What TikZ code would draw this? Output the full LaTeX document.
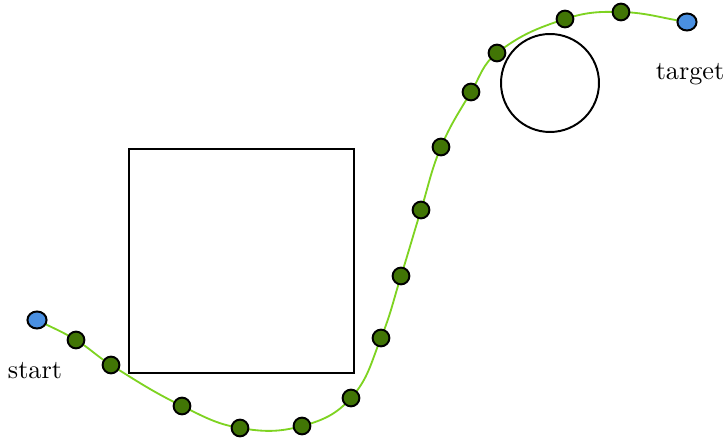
\documentclass[tikz,border=0pt]{standalone}
\usetikzlibrary{shapes.geometric}
\definecolor{pathgreen}{RGB}{126,211,33}
\definecolor{dotgreen}{RGB}{65,117,5}
\definecolor{endblue}{RGB}{74,144,226}
\begin{document}
\begin{tikzpicture}[x=0.3817pt,y=0.3817pt,
  wp/.style={circle,draw=black,line width=0.75pt,fill=dotgreen,inner sep=0pt,minimum size=6.4pt},
  endpt/.style={ellipse,draw=black,line width=0.75pt,fill=endblue,inner sep=0pt,minimum width=7.3pt,minimum height=6.5pt},
  obst/.style={draw=black,line width=0.75pt},
  trail/.style={pathgreen,line width=0.7pt},
  lbl/.style={inner sep=0pt}]
\useasboundingbox (0,0) rectangle (725,439);
% obstacles
\node[obst,rectangle,inner sep=0pt,minimum width=85.9pt,minimum height=85.5pt] (box) at (241.5,178) {};
\node[obst,circle,minimum size=37.4pt,inner sep=0pt] (obs) at (550,356) {};
% trail coordinates
\coordinate (c0) at (37,119);
\coordinate (c1) at (76,99);
\coordinate (c2) at (111,74);
\coordinate (c3) at (182,33);
\coordinate (c4) at (240,11);
\coordinate (c5) at (302,13);
\coordinate (c6) at (351,41);
\coordinate (c7) at (381,101);
\coordinate (c8) at (401,163);
\coordinate (c9) at (421,229);
\coordinate (c10) at (441,292);
\coordinate (c11) at (471,347);
\coordinate (c12) at (497,386);
\coordinate (c13) at (565,420);
\coordinate (c14) at (621,427);
\coordinate (c15) at (687,417);
\draw[trail] (c0) to[out=-27,in=148.7] (c1) to[out=-31.3,in=148.1] (c2)
  to[out=-31.9,in=154] (c3) to[out=-26,in=170.5] (c4) to[out=-9.5,in=195.1] (c5)
  to[out=15.1,in=228.1] (c6) to[out=48.1,in=247.7] (c7) to[out=67.7,in=252.6] (c8)
  to[out=72.6,in=252.8] (c9) to[out=72.8,in=247] (c10) to[out=67,in=239.2] (c11)
  to[out=59.2,in=217.8] (c12) to[out=37.8,in=198.3] (c13) to[out=18.3,in=178.6] (c14)
  to[out=-1.4,in=171.4] (c15);
% nodes
\node[endpt] (s) at (c0) {};
\node[endpt] (t) at (c15) {};
\node[wp] (w1) at (c1) {};
\node[wp] (w2) at (c2) {};
\node[wp] (w3) at (c3) {};
\node[wp] (w4) at (c4) {};
\node[wp] (w5) at (c5) {};
\node[wp] (w6) at (c6) {};
\node[wp] (w7) at (c7) {};
\node[wp] (w8) at (c8) {};
\node[wp] (w9) at (c9) {};
\node[wp] (w10) at (c10) {};
\node[wp] (w11) at (c11) {};
\node[wp] (w12) at (c12) {};
\node[wp] (w13) at (c13) {};
\node[wp] (w14) at (c14) {};
\node[lbl] (sl) at (35,68) {start};
\node[lbl] (tl) at (690,365) {target};
\end{tikzpicture}
\end{document}
